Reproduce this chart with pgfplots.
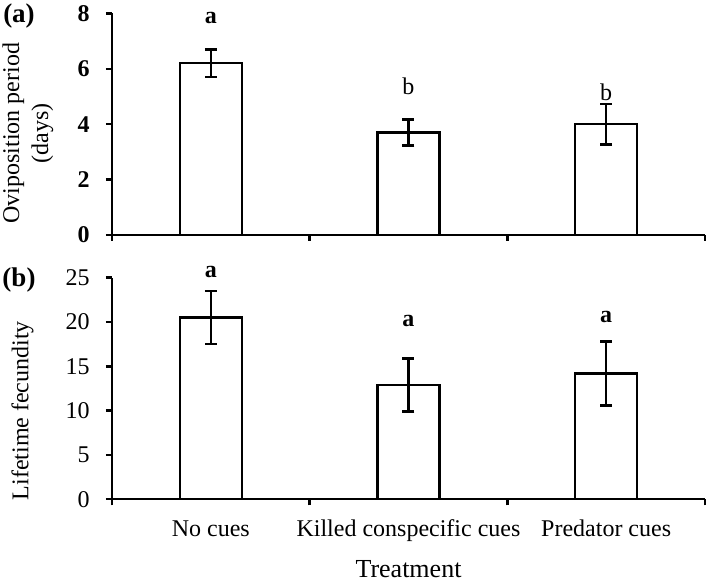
\documentclass[border=0pt,12pt]{standalone}
\usepackage{fontspec}
\setmainfont{Liberation Serif}
\usepackage{pgfplots}
\pgfplotsset{compat=1.18}
\pgfplotstableread{
x y err
0.5 6.2 0.5
1.5 3.7 0.47
2.5 4.0 0.74
}\tabA
\pgfplotstableread{
x y err
0.5 20.5 3.0
1.5 12.9 3.0
2.5 14.2 3.6
}\tabB
\pgfplotsset{
  mystyle/.style={
    scale only axis, width=296.5pt, height=110.8pt,
    axis x line=bottom, axis y line=left,
    axis line style={-, line width=1.2pt},
    xmin=0, xmax=3,
    xtick={0,1,2,3}, xticklabels={},
    tick align=outside, major tick length=3pt,
    tick style={line width=1.2pt, black},
    ymin=0,
    /pgf/number format/assume math mode=true,
    yticklabel style={anchor=east, inner sep=0pt, xshift=-8pt},
    clip=false,
    ybar, bar width=0.314, bar shift=0pt,
  },
  mybar/.style={fill=white, draw=black, line width=1.2pt,
    error bars/.cd, y dir=both, y explicit,
    error bar style={line width=1.2pt, black},
    error mark options={rotate=90, mark size=3pt, line width=1.2pt, black}},
}
\begin{document}
\begin{tikzpicture}
\useasboundingbox (-56pt,-173.5pt) rectangle (298.5pt,117.5pt);
\begin{axis}[mystyle, at={(0,0)}, anchor=south west,
  ymax=8, ytick={0,2,4,6,8},
  yticklabel style={font=\bfseries},
  ylabel={}]
\addplot[mybar] table[x=x, y=y, y error=err] {\tabA};
\node[font=\bfseries] at (axis cs:0.5,7.82) {a};
\node at (axis cs:1.5,5.38) {b};
\node at (axis cs:2.5,5.17) {b};
\node[rotate=90, align=center] at (axis description cs:-0.1417,0.46) {Oviposition period\\(days)};
\end{axis}
\node[font=\fontsize{13.5}{15}\selectfont\bfseries] at (-46.5pt,109.5pt) {(a)};
\begin{axis}[mystyle, at={(0,-132.15pt)}, anchor=south west,
  ymax=25, ytick={0,5,10,15,20,25}]
\addplot[mybar] table[x=x, y=y, y error=err] {\tabB};
\node[font=\bfseries] at (axis cs:0.5,25.7) {a};
\node[font=\bfseries] at (axis cs:1.5,20.07) {a};
\node[font=\bfseries] at (axis cs:2.5,20.6) {a};
\node[rotate=90] at (axis description cs:-0.151,0.40) {Lifetime fecundity};
\node[anchor=base, yshift=-18.7pt] at (axis cs:0.5,0) {No cues};
\node[anchor=base, yshift=-18.7pt] at (axis cs:1.5,0) {Killed conspecific cues};
\node[anchor=base, yshift=-18.7pt] at (axis cs:2.5,0) {Predator cues};
\node[anchor=base, yshift=-39.2pt, font=\fontsize{13}{15}\selectfont] at (axis cs:1.5,0) {Treatment};
\end{axis}
\node[font=\fontsize{13.5}{15}\selectfont\bfseries] at (-46.5pt,-22.5pt) {(b)};
\end{tikzpicture}
\end{document}
